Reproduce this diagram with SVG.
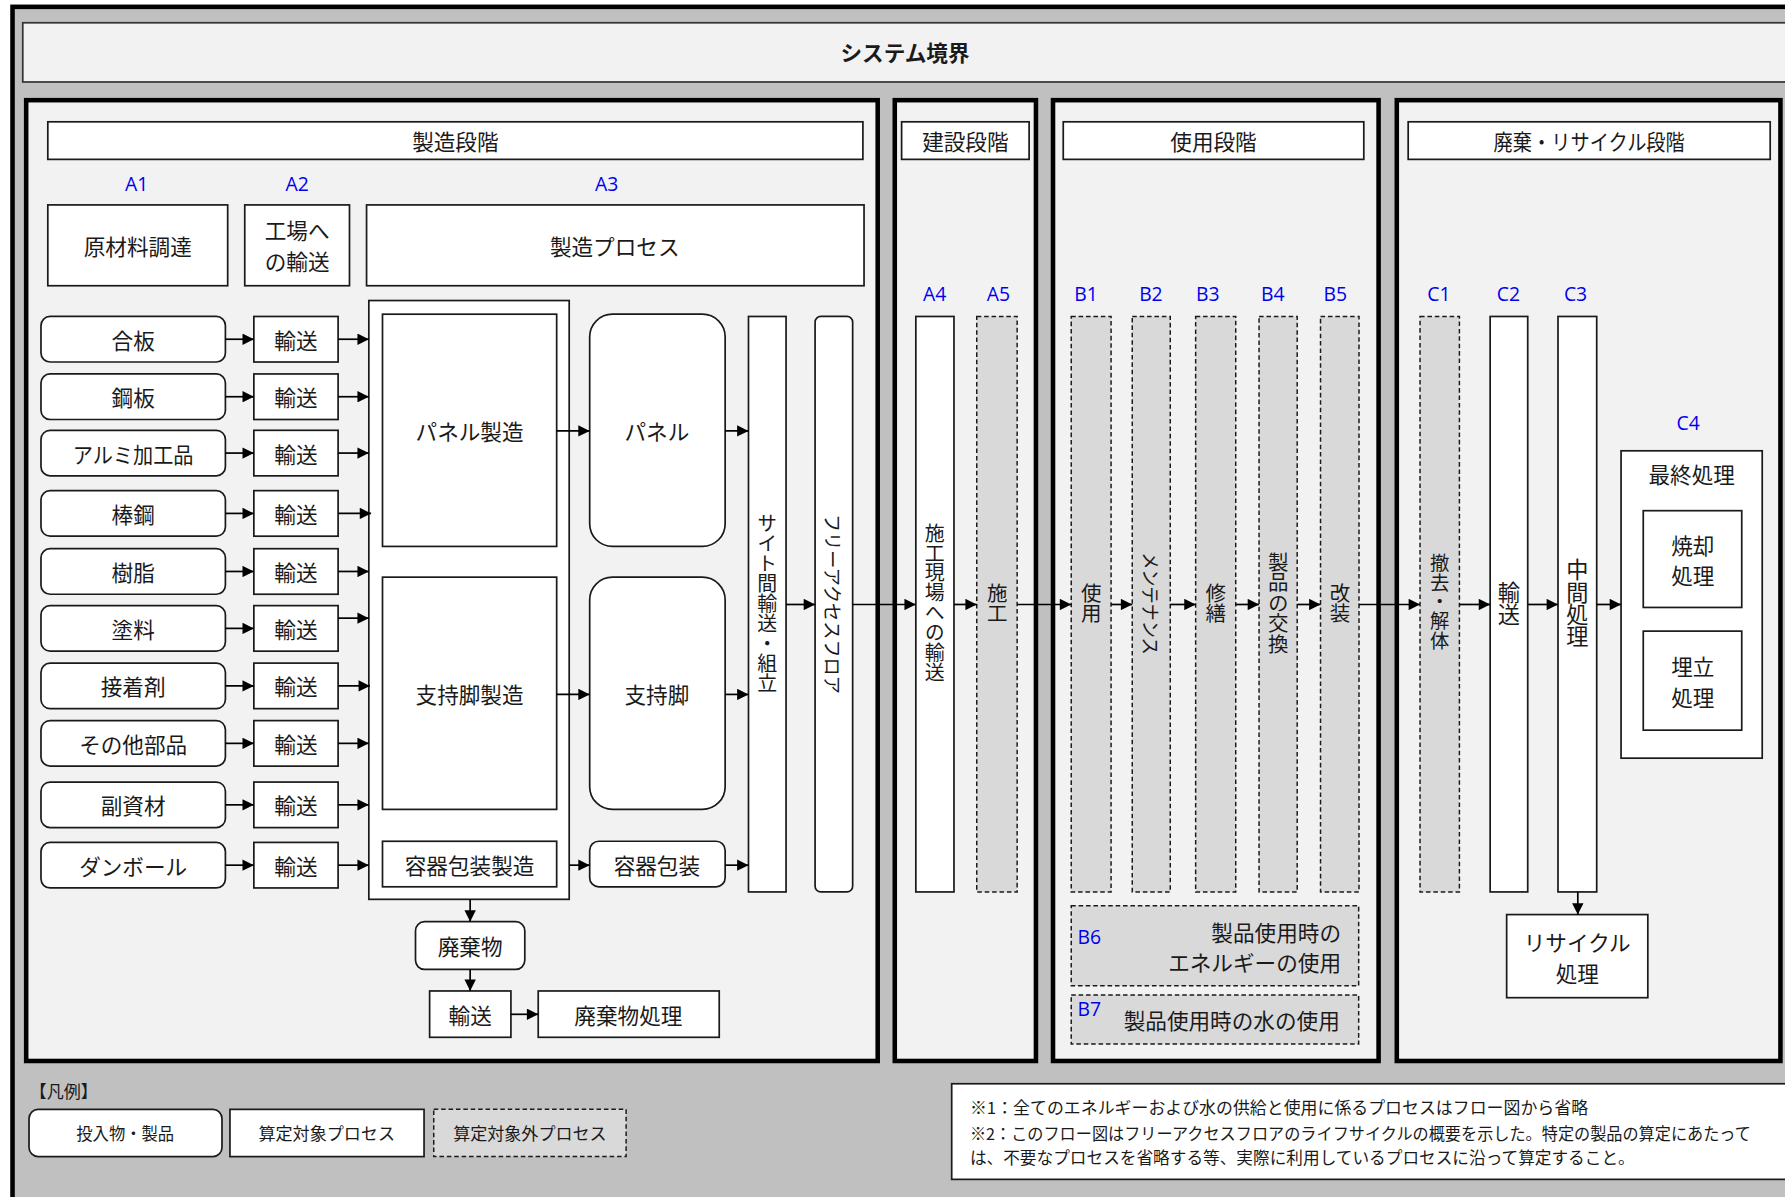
<svg xmlns="http://www.w3.org/2000/svg" width="1785" height="1197" viewBox="0 0 1785 1197">
<defs>
<style>
.w{fill:#fff;stroke:#1a1a1a;stroke-width:1.5}
.d{fill:#d9d9d9;stroke:#1a1a1a;stroke-width:1.3;stroke-dasharray:4 2.5}
.stage{fill:#f2f2f2;stroke:#000;stroke-width:4}
.t{font-family:"Noto Sans CJK JP",sans-serif;font-size:19px;fill:#1a1a1a;text-anchor:middle;dominant-baseline:central}
.v{font-family:"Noto Sans CJK JP",sans-serif;font-size:18px;fill:#1a1a1a;text-anchor:middle;dominant-baseline:central;writing-mode:vertical-rl}
.r{font-family:"Noto Sans CJK JP",sans-serif;fill:#1a1a1a;text-anchor:middle;dominant-baseline:central}
.s{font-family:"Noto Sans CJK JP",sans-serif;font-size:15px;fill:#1a1a1a;text-anchor:middle;dominant-baseline:central}
.n{font-family:"Noto Sans CJK JP",sans-serif;font-size:14.5px;fill:#1a1a1a;dominant-baseline:central}
.lbl{font-family:"Open Sans","Noto Sans",sans-serif;font-size:17px;fill:#0000f0;text-anchor:middle;dominant-baseline:central}
.c{stroke:#000;stroke-width:1.5;fill:none;marker-end:url(#ah)}
</style>
<marker id="ah" viewBox="0 0 10 10" refX="10" refY="5" markerWidth="11" markerHeight="10" markerUnits="userSpaceOnUse" orient="auto"><path d="M0,0 L10,5 L0,10 z" fill="#000"/></marker>
</defs>
<rect x="0" y="0" width="1785" height="1197" fill="#fff"/>
<g transform="scale(1.13839)">
<g id="boundary">
<rect x="11" y="6" width="1600" height="1100" fill="#c0c0c0" stroke="#000" stroke-width="4"/>
<rect x="20" y="20" width="1560" height="52" fill="#f2f2f2" stroke="#333" stroke-width="1.5"/>
<text class="t" x="795" y="45" font-weight="bold">システム境界</text>
</g>
<g id="stage-manufacturing">
<rect class="stage" x="23" y="88" width="748" height="844"/>
<rect class="w" x="42" y="107" width="716" height="33"/>
<text class="t" x="400" y="123.5">製造段階</text>
</g>
<g id="stage-construction">
<rect class="stage" x="786" y="88" width="124" height="844"/>
<rect class="w" x="792" y="107" width="112" height="33"/>
<text class="t" x="848" y="123.5">建設段階</text>
</g>
<g id="stage-use">
<rect class="stage" x="925" y="88" width="286" height="844"/>
<rect class="w" x="934" y="107" width="264" height="33"/>
<text class="t" x="1066" y="123.5">使用段階</text>
</g>
<g id="stage-eol">
<rect class="stage" x="1227" y="88" width="337" height="844"/>
<rect class="w" x="1237" y="107" width="318" height="33"/>
<text class="t" x="1396" y="123.5" textLength="168" lengthAdjust="spacingAndGlyphs">廃棄・リサイクル段階</text>
</g>
<g id="labels">
<text class="lbl" x="120" y="161">A1</text>
<text class="lbl" x="261" y="161">A2</text>
<text class="lbl" x="533" y="161">A3</text>
<text class="lbl" x="821" y="258">A4</text>
<text class="lbl" x="877" y="258">A5</text>
<text class="lbl" x="954" y="258">B1</text>
<text class="lbl" x="1011" y="258">B2</text>
<text class="lbl" x="1061" y="258">B3</text>
<text class="lbl" x="1118" y="258">B4</text>
<text class="lbl" x="1173" y="258">B5</text>
<text class="lbl" x="1264" y="258">C1</text>
<text class="lbl" x="1325" y="258">C2</text>
<text class="lbl" x="1384" y="258">C3</text>
<text class="lbl" x="1483" y="371">C4</text>
</g>
<g id="h-a1"><rect class="w" x="42" y="180" width="158" height="71"/><text class="t" x="121" y="215.5">原材料調達</text></g>
<g id="h-a2"><rect class="w" x="215" y="180" width="92" height="71"/><text class="t" x="261" y="202">工場へ</text><text class="t" x="261" y="229">の輸送</text></g>
<g id="h-a3"><rect class="w" x="322" y="180" width="437" height="71"/><text class="t" x="540" y="215.5">製造プロセス</text></g>
<g id="in-1"><rect class="w" x="36" y="278" width="162" height="40" rx="8"/><text class="t" x="117" y="298">合板</text></g>
<g id="in-2"><rect class="w" x="36" y="328.5" width="162" height="40" rx="8"/><text class="t" x="117" y="348.5">鋼板</text></g>
<g id="in-3"><rect class="w" x="36" y="378" width="162" height="40" rx="8"/><text class="t" x="117" y="398" textLength="106" lengthAdjust="spacingAndGlyphs">アルミ加工品</text></g>
<g id="in-4"><rect class="w" x="36" y="431" width="162" height="40" rx="8"/><text class="t" x="117" y="451">棒鋼</text></g>
<g id="in-5"><rect class="w" x="36" y="482" width="162" height="40" rx="8"/><text class="t" x="117" y="502">樹脂</text></g>
<g id="in-6"><rect class="w" x="36" y="532" width="162" height="40" rx="8"/><text class="t" x="117" y="552">塗料</text></g>
<g id="in-7"><rect class="w" x="36" y="582.5" width="162" height="40" rx="8"/><text class="t" x="117" y="602.5">接着剤</text></g>
<g id="in-8"><rect class="w" x="36" y="633" width="162" height="40" rx="8"/><text class="t" x="117" y="653">その他部品</text></g>
<g id="in-9"><rect class="w" x="36" y="687" width="162" height="40" rx="8"/><text class="t" x="117" y="707">副資材</text></g>
<g id="in-10"><rect class="w" x="36" y="740" width="162" height="40" rx="8"/><text class="t" x="117" y="760">ダンボール</text></g>
<g id="tr-1"><rect class="w" x="223" y="278" width="74" height="40"/><text class="t" x="260" y="298">輸送</text></g>
<g id="tr-2"><rect class="w" x="223" y="328.5" width="74" height="40"/><text class="t" x="260" y="348.5">輸送</text></g>
<g id="tr-3"><rect class="w" x="223" y="378" width="74" height="40"/><text class="t" x="260" y="398">輸送</text></g>
<g id="tr-4"><rect class="w" x="223" y="431" width="74" height="40"/><text class="t" x="260" y="451">輸送</text></g>
<g id="tr-5"><rect class="w" x="223" y="482" width="74" height="40"/><text class="t" x="260" y="502">輸送</text></g>
<g id="tr-6"><rect class="w" x="223" y="532" width="74" height="40"/><text class="t" x="260" y="552">輸送</text></g>
<g id="tr-7"><rect class="w" x="223" y="582.5" width="74" height="40"/><text class="t" x="260" y="602.5">輸送</text></g>
<g id="tr-8"><rect class="w" x="223" y="633" width="74" height="40"/><text class="t" x="260" y="653">輸送</text></g>
<g id="tr-9"><rect class="w" x="223" y="687" width="74" height="40"/><text class="t" x="260" y="707">輸送</text></g>
<g id="tr-10"><rect class="w" x="223" y="740" width="74" height="40"/><text class="t" x="260" y="760">輸送</text></g>
<g id="mfg-process"><rect class="w" x="324" y="264" width="176" height="526"/></g>
<g id="panel-mfg"><rect class="w" x="336" y="276" width="153" height="204"/><text class="t" x="412.5" y="378">パネル製造</text></g>
<g id="leg-mfg"><rect class="w" x="336" y="507" width="153" height="204"/><text class="t" x="412.5" y="609">支持脚製造</text></g>
<g id="pack-mfg"><rect class="w" x="336" y="739" width="153" height="40"/><text class="t" x="412.5" y="759">容器包装製造</text></g>
<g id="panel"><rect class="w" x="518" y="276" width="119" height="204" rx="20"/><text class="t" x="577" y="378">パネル</text></g>
<g id="leg"><rect class="w" x="518" y="507" width="119" height="204" rx="20"/><text class="t" x="577" y="609">支持脚</text></g>
<g id="pack"><rect class="w" x="518" y="739" width="119" height="40" rx="8"/><text class="t" x="577" y="759">容器包装</text></g>
<g id="site-transport"><rect class="w" x="657.5" y="278" width="33" height="505.5"/>
<text class="v" x="674" y="530" style="font-size:17.5px">サイト間輸送・組立</text></g>
<g id="floor"><rect class="w" x="716" y="278" width="33" height="505.5" rx="5"/>
<text class="r" style="font-size:16.5px" transform="translate(732.5,530.5) rotate(90)" x="0" y="0" textLength="158" lengthAdjust="spacingAndGlyphs">フリーアクセスフロア</text></g>
<g id="waste"><rect class="w" x="365" y="809.6" width="96" height="42" rx="8"/><text class="t" x="413" y="830.5">廃棄物</text></g>
<g id="waste-tr"><rect class="w" x="377.4" y="870.5" width="71.4" height="40.7"/><text class="t" x="413" y="891">輸送</text></g>
<g id="waste-proc"><rect class="w" x="472.8" y="870.5" width="159" height="40.7"/><text class="t" x="552" y="891">廃棄物処理</text></g>
<g id="a4"><rect class="w" x="804.5" y="278" width="33.5" height="505.5"/>
<text class="v" x="821" y="529.5" style="font-size:17.5px">施工現場への輸送</text></g>
<g id="a5"><rect class="d" x="858" y="278" width="35.5" height="505.5"/>
<text class="v" x="876" y="530">施工</text></g>
<g id="b1"><rect class="d" x="941" y="278" width="35" height="505.5"/>
<text class="v" x="958.5" y="530">使用</text></g>
<g id="b2"><rect class="d" x="994.6" y="278" width="33.4" height="505.5"/>
<text class="r" style="font-size:17px" transform="translate(1011.3,530) rotate(90)" x="0" y="0" textLength="90" lengthAdjust="spacingAndGlyphs">メンテナンス</text></g>
<g id="b3"><rect class="d" x="1050.3" y="278" width="35.2" height="505.5"/>
<text class="v" x="1068" y="530">修繕</text></g>
<g id="b4"><rect class="d" x="1106" y="278" width="33.5" height="505.5"/>
<text class="v" x="1122.8" y="529.5">製品の交換</text></g>
<g id="b5"><rect class="d" x="1160" y="278" width="33.8" height="505.5"/>
<text class="v" x="1177" y="530">改装</text></g>
<g id="b6"><rect class="d" x="941" y="795.6" width="252.5" height="70.4"/>
<text class="lbl" x="946.5" y="823" style="text-anchor:start">B6</text>
<text class="t" x="1178" y="818" style="text-anchor:end">製品使用時の</text>
<text class="t" x="1178" y="845" style="text-anchor:end">エネルギーの使用</text></g>
<g id="b7"><rect class="d" x="941" y="874" width="252.5" height="43"/>
<text class="lbl" x="946.5" y="886" style="text-anchor:start">B7</text>
<text class="t" x="1082" y="896">製品使用時の水の使用</text></g>
<g id="c1"><rect class="d" x="1247.4" y="278" width="34.6" height="505.5"/>
<text class="v" x="1264.7" y="528.5" style="font-size:17px">撤去・解体</text></g>
<g id="c2"><rect class="w" x="1309" y="278" width="33" height="505.5"/>
<text class="v" x="1325.5" y="530" style="font-size:19.5px">輸送</text></g>
<g id="c3"><rect class="w" x="1368.6" y="278" width="34" height="505.5"/>
<text class="v" x="1385.6" y="530" style="font-size:19.5px">中間処理</text></g>
<g id="c4"><rect class="w" x="1424" y="396" width="124" height="270"/>
<text class="t" x="1486" y="415.5">最終処理</text></g>
<g id="c4-incin"><rect class="w" x="1443.5" y="448.6" width="86.5" height="85"/><text class="t" x="1487" y="478">焼却</text><text class="t" x="1487" y="505">処理</text></g>
<g id="c4-landfill"><rect class="w" x="1443.5" y="554.4" width="86.5" height="87"/><text class="t" x="1487" y="585">埋立</text><text class="t" x="1487" y="612">処理</text></g>
<g id="recycle"><rect class="w" x="1323.5" y="803.4" width="124" height="73"/><text class="t" x="1385.5" y="827">リサイクル</text><text class="t" x="1385.5" y="854">処理</text></g>
<g id="connectors">
<path class="c" d="M198,298 H223"/>
<path class="c" d="M198,348.5 H223"/>
<path class="c" d="M198,398 H223"/>
<path class="c" d="M198,451 H223"/>
<path class="c" d="M198,502 H223"/>
<path class="c" d="M198,552 H223"/>
<path class="c" d="M198,602.5 H223"/>
<path class="c" d="M198,653 H223"/>
<path class="c" d="M198,707 H223"/>
<path class="c" d="M198,760 H223"/>
<path class="c" d="M297,298 H324"/>
<path class="c" d="M297,348.5 H324"/>
<path class="c" d="M297,398 H324"/>
<path class="c" d="M297,451 H326"/>
<path class="c" d="M297,502 H324"/>
<path class="c" d="M297,543 H324"/>
<path class="c" d="M297,602.5 H325"/>
<path class="c" d="M297,653 H324"/>
<path class="c" d="M297,707 H324"/>
<path class="c" d="M297,760 H324"/>
<path class="c" d="M489,378.5 H518"/>
<path class="c" d="M489,610 H518"/>
<path class="c" d="M500,760 H518"/>
<path class="c" d="M637,378.5 H657.5"/>
<path class="c" d="M637,610 H657.5"/>
<path class="c" d="M637,760 H657.5"/>
<path class="c" d="M690.5,531 H716"/>
<path class="c" d="M749,531 H804.5"/>
<path class="c" d="M838,531 H858"/>
<path class="c" d="M893.5,531 H941"/>
<path class="c" d="M976,531 H994.6"/>
<path class="c" d="M1028,531 H1050.3"/>
<path class="c" d="M1085.5,531 H1106"/>
<path class="c" d="M1139.5,531 H1160"/>
<path class="c" d="M1193.8,531 H1247.4"/>
<path class="c" d="M1282,531 H1309"/>
<path class="c" d="M1342,531 H1368.6"/>
<path class="c" d="M1402.6,531 H1424"/>
<path class="c" d="M1386,783.5 V803.4"/>
<path class="c" d="M413,790 V809.6"/>
<path class="c" d="M413,851.6 V870.5"/>
<path class="c" d="M448.8,891 H472.8"/>
</g>
<g id="legend">
<text class="s" x="26" y="958" style="text-anchor:start">【凡例】</text>
<rect class="w" x="25.5" y="974.5" width="169.5" height="41.5" rx="8"/>
<text class="s" x="110" y="995" textLength="86" lengthAdjust="spacingAndGlyphs">投入物・製品</text>
<rect class="w" x="202" y="974.5" width="170.5" height="41.5"/>
<text class="s" x="287" y="995">算定対象プロセス</text>
<rect class="d" x="381" y="974.5" width="169" height="41.5"/>
<text class="s" x="465.5" y="995">算定対象外プロセス</text>
</g>
<g id="notes">
<rect x="836" y="952" width="740" height="84" fill="#fff" stroke="#1a1a1a" stroke-width="1.5"/>
<text class="n" x="852" y="972" textLength="543" lengthAdjust="spacingAndGlyphs">※1：全てのエネルギーおよび水の供給と使用に係るプロセスはフロー図から省略</text>
<text class="n" x="852" y="995" textLength="686" lengthAdjust="spacingAndGlyphs">※2：このフロー図はフリーアクセスフロアのライフサイクルの概要を示した。特定の製品の算定にあたって</text>
<text class="n" x="852" y="1016" textLength="584" lengthAdjust="spacingAndGlyphs">は、不要なプロセスを省略する等、実際に利用しているプロセスに沿って算定すること。</text>
</g>
</g>
</svg>
